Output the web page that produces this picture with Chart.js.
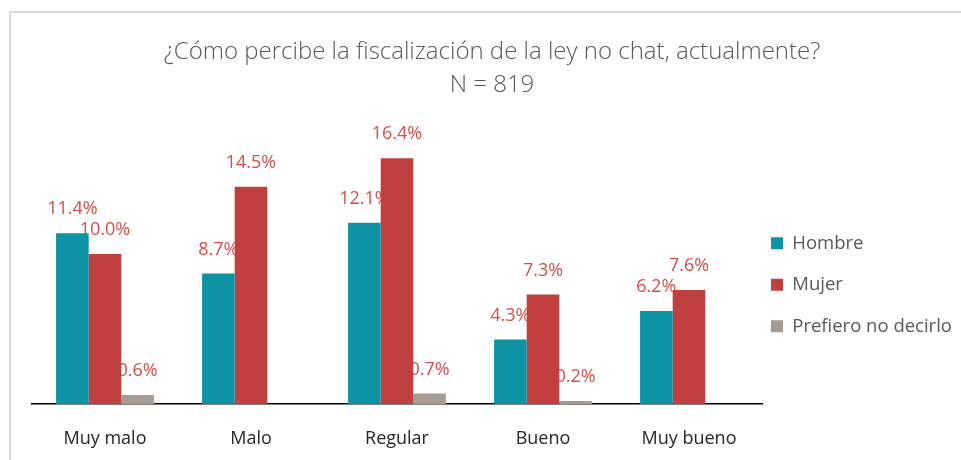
<!DOCTYPE html>
<html>
<head>
<meta charset="utf-8">
<script src="https://cdn.jsdelivr.net/npm/chart.js@4"></script>
<style>
    body { margin: 0; background: #fff; }
    #marco { position: absolute; left: 9px; top: 11px; width: 960px; height: 460px; border-top: 2px solid #d9d9d9; border-left: 2px solid #d9d9d9; }
    #caja { position: absolute; left: 0; top: 0; width: 961px; height: 460px; }
</style>
</head>
<body>
<div id="marco"></div>
<div id="caja"><canvas id="grafico"></canvas></div>
<script>
const categorias = ["Muy malo", "Malo", "Regular", "Bueno", "Muy bueno"];
const hombre = [11.4, 8.7, 12.1, 4.3, 6.2];
const mujer = [10.0, 14.5, 16.4, 7.3, 7.6];
const prefiero = [0.6, null, 0.7, 0.2, null];
const titulo = ["¿Cómo percibe la fiscalización de la ley no chat, actualmente?", "N = 819"];

// etiquetas debajo de las barras, como en el original
const etiquetas = {
    id: "etiquetas",
    beforeDatasetsDraw(chart) {
        let ctx = chart.ctx;
        ctx.save();
        ctx.font = "18px 'Open Sans'";
        ctx.fillStyle = "#D4504C";
        ctx.textAlign = "center";
        ctx.textBaseline = "alphabetic";
        chart.data.datasets.forEach((ds, i) => {
            chart.getDatasetMeta(i).data.forEach((bar, j) => {
                let v = ds.data[j];
                if (v === null) return;
                ctx.fillText(v.toFixed(1) + "%", bar.x, bar.y - 19);
            });
        });
        ctx.restore();
    }
};

// acercar la leyenda al área del gráfico
const moverLeyenda = {
    id: "moverLeyenda",
    afterLayout(chart) {
        chart.legend.left -= 14;
        chart.legend.width += 14;
    }
};

let ctx = document.getElementById("grafico").getContext("2d");
new Chart(ctx, {
    type: "bar",
    data: {
        labels: categorias,
        datasets: [
            { label: "Hombre", data: hombre, backgroundColor: "#0E93A5" },
            { label: "Mujer", data: mujer, backgroundColor: "#C0403F" },
            { label: "Prefiero no decirlo", data: prefiero, backgroundColor: "#A69C94" }
        ]
    },
    options: {
        responsive: true,
        maintainAspectRatio: false,
        animation: false,
        layout: { padding: { left: 32, right: 9, top: 0, bottom: 12 } },
        datasets: { bar: { barPercentage: 1, categoryPercentage: 0.67 } },
        scales: {
            x: {
                grid: { display: false },
                border: { display: true, color: "#000", width: 1.5 },
                ticks: { color: "#262626", font: { family: "Open Sans", size: 18 }, padding: 16 },
                afterFit: s => { s.height = 44; }
            },
            y: { display: false, min: 0, max: 18 }
        },
        plugins: {
            title: {
                display: true,
                text: titulo,
                color: "#595959",
                font: { family: "Open Sans", size: 24, weight: "300", lineHeight: 1.4 },
                padding: { top: 35, bottom: 32 }
            },
            legend: {
                position: "right",
                align: "start",
                maxWidth: 190,
                title: { display: true, text: " ", font: { size: 10 }, padding: { top: 199, bottom: 0 } },
                labels: {
                    color: "#595959",
                    font: { family: "Open Sans", size: 18.5 },
                    boxWidth: 12,
                    boxHeight: 12,
                    padding: 23
                }
            },
            tooltip: { enabled: false }
        }
    },
    plugins: [etiquetas, moverLeyenda]
});
</script>
</body>
</html>
